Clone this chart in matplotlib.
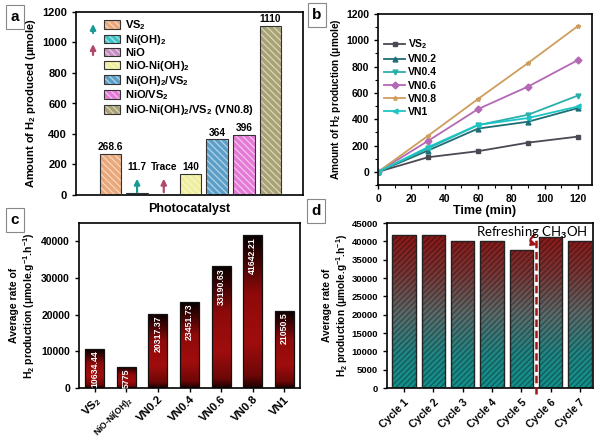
import numpy as np
import matplotlib
matplotlib.use("Agg")
import matplotlib.pyplot as plt
from matplotlib.colors import LinearSegmentedColormap
from matplotlib.patches import Patch
from matplotlib.legend_handler import HandlerTuple

plt.rcParams['font.family'] = ['Liberation Sans', 'DejaVu Sans']
plt.rcParams['font.weight'] = 'bold'
plt.rcParams['axes.labelweight'] = 'bold'
plt.rcParams['mathtext.fontset'] = 'custom'
plt.rcParams['mathtext.rm'] = 'Liberation Sans:bold'
plt.rcParams['mathtext.bf'] = 'Liberation Sans:bold'
plt.rcParams['mathtext.it'] = 'Liberation Sans:bold:italic'
plt.rcParams['axes.linewidth'] = 1.2
plt.rcParams['hatch.linewidth'] = 0.9

# ---- panel a: amount of H2 per photocatalyst
cat_a = [r'VS$_2$', r'Ni(OH)$_2$', 'NiO', r'NiO-Ni(OH)$_2$', r'Ni(OH)$_2$/VS$_2$',
         r'NiO/VS$_2$', r'NiO-Ni(OH)$_2$/VS$_2$ (VN0.8)']
h2_a = [268.6, 11.7, 3, 140, 364, 396, 1110]
lab_a = ['268.6', '11.7', 'Trace', '140', '364', '396', '1110']
col_a = ['#e9a77a', '#3fc3c9', '#c78fc0', '#eeee9c', '#5b9fc9', '#e57ad6', '#a9a274']

# ---- panel b: H2 vs time
time_b = [0, 30, 60, 90, 120]
names_b = [r'VS$_2$', 'VN0.2', 'VN0.4', 'VN0.6', 'VN0.8', 'VN1']
vs2 = [0, 111, 157, 222, 268]
vn02 = [0, 162, 329, 381, 485]
vn04 = [0, 178, 355, 434, 580]
vn06 = [0, 235, 477, 648, 850]
vn08 = [0, 274, 554, 827, 1109]
vn1 = [0, 188, 357, 409, 497]
col_b = ['#4a4a55', '#1e6e76', '#2ab0aa', '#b468b6', '#cf9e5e', '#1ec4c4']
mk_b = ['s', '^', 'v', 'D', '*', '<']

# ---- panel c: average rate
cat_c = [r'VS$_2$', r'NiO-Ni(OH)$_2$', 'VN0.2', 'VN0.4', 'VN0.6', 'VN0.8', 'VN1']
rate_c = [10634.44, 5775, 20317.37, 23451.73, 33190.63, 41642.21, 21050.5]
lab_c = ['10634.44', '5775', '20317.37', '23451.73', '33190.63', '41642.21', '21050.5']

# ---- panel d: recycling
cat_d = ['Cycle 1', 'Cycle 2', 'Cycle 3', 'Cycle 4', 'Cycle 5', 'Cycle 6', 'Cycle 7']
rate_d = [41800, 41650, 40200, 40200, 37550, 41100, 40200]

W, H = 600, 440
fig = plt.figure(figsize=(6, 4.4), dpi=100)


def rect(l, t, r, b):
    return [l / W, 1 - b / H, (r - l) / W, (b - t) / H]


def panel_label(x, y, s):
    fig.text(x / W, 1 - y / H, s, fontsize=11, fontweight='bold', ha='center', va='center',
             bbox=dict(boxstyle='square,pad=0.3', fc='white', ec='#888888', lw=0.8))


ylab2 = 'Average rate of\nH$_2$ production (μmole.g$^{-1}$.h$^{-1}$)'

# ================= a
ax = fig.add_axes(rect(76, 12, 303, 195))
xa = np.arange(len(cat_a))
ax.bar(xa, h2_a, width=0.81, color=col_a, edgecolor=(1, 1, 1, 0.55), linewidth=0,
       hatch='\\\\\\\\\\', zorder=2)
ax.bar(xa, h2_a, width=0.81, color='none', edgecolor='#333333', linewidth=0.8, zorder=3)
for x, h, s in zip(xa, h2_a, lab_a):
    yy = h + 12 if h > 100 else 150
    ax.text(x, yy, s, ha='center', va='bottom', fontsize=7.3, fontweight='bold')
ax.annotate('', xy=(1, 125), xytext=(1, 0),
            arrowprops=dict(arrowstyle='-|>', color='#1a9a94', lw=1.6, mutation_scale=8))
ax.annotate('', xy=(2, 125), xytext=(2, 0),
            arrowprops=dict(arrowstyle='-|>', color='#b04a6a', lw=1.6, mutation_scale=8))
ax.annotate('', xy=(0.075, 0.95), xytext=(0.075, 0.87), xycoords='axes fraction',
            arrowprops=dict(arrowstyle='-|>', color='#1a9a94', lw=1.6, mutation_scale=8))
ax.annotate('', xy=(0.075, 0.84), xytext=(0.075, 0.75), xycoords='axes fraction',
            arrowprops=dict(arrowstyle='-|>', color='#b04a6a', lw=1.6, mutation_scale=8))
handles = [(Patch(facecolor=c, edgecolor=(1, 1, 1, 0.55), linewidth=0, hatch='\\\\\\\\\\'),
            Patch(facecolor='none', edgecolor='#333333', linewidth=0.8)) for c in col_a]
ax.legend(handles, cat_a, handler_map={tuple: HandlerTuple(ndivide=1, pad=0)},
          loc='upper left', bbox_to_anchor=(0.095, 1.0), frameon=False, fontsize=8,
          handlelength=1.45, handleheight=0.8, labelspacing=0.08, handletextpad=0.5,
          borderaxespad=0.15)
ax.set_xlim(-1.29, 7.22)
ax.set_ylim(0, 1200)
ax.set_yticks(range(0, 1201, 200))
ax.set_xticks([])
ax.tick_params(axis='y', direction='out', length=3, width=1, labelsize=8)
ax.set_ylabel('Amount of H$_2$ produced (μmole)', fontsize=8, labelpad=3)
ax.set_xlabel('Photocatalyst', fontsize=9, labelpad=6)
panel_label(15, 17, 'a')

# ================= b
ax = fig.add_axes(rect(378, 14, 592, 185))
for ys, n, c, m in zip([vs2, vn02, vn04, vn06, vn08, vn1], names_b, col_b, mk_b):
    ax.plot(time_b, ys, color=c, marker=m, markersize=3.5, lw=1.3, label=n)
ax.set_xlim(0, 128.4)
ax.set_ylim(-100, 1200)
ax.set_xticks(range(0, 121, 20))
ax.set_yticks(range(0, 1201, 200))
ax.set_xticks(range(10, 130, 20), minor=True)
ax.set_yticks(range(-100, 1200, 200), minor=True)
ax.tick_params(which='major', direction='out', length=3, width=1, labelsize=7.5)
ax.tick_params(which='minor', direction='out', length=2, width=0.8)
ax.set_xlabel('Time (min)', fontsize=9, labelpad=1)
ax.set_ylabel('Amount of H$_2$ production (μmole)', fontsize=7.3, labelpad=2)
ax.legend(loc='upper left', bbox_to_anchor=(0.0, 0.9), frameon=False, fontsize=7.5,
          handlelength=2.0, labelspacing=0.3, handletextpad=0.3, borderaxespad=0.2)
panel_label(317, 15, 'b')

# ================= c
ax = fig.add_axes(rect(79, 223, 300, 388))
xc = np.arange(len(cat_c))
cmap_c = LinearSegmentedColormap.from_list('rodc', [(0, '#1a0000'), (0.08, '#6e0707'),
                                                   (0.3, '#a00d0d'), (0.62, '#8e0a0a'),
                                                   (0.85, '#3a0303'), (1, '#050000')])
grad = np.linspace(0, 1, 256).reshape(-1, 1)
bars = ax.bar(xc, rate_c, width=0.6, color='none', edgecolor='#111111', linewidth=0.9, zorder=3)
for b in bars:
    x0, w, h = b.get_x(), b.get_width(), b.get_height()
    im = ax.imshow(grad, extent=[x0, x0 + w, 0, h], origin='lower', cmap=cmap_c,
                   aspect='auto', zorder=2)
    im.set_clip_path(b)
for x, h, s in zip(xc, rate_c, lab_c):
    ax.text(x, h - 450, s, rotation=90, ha='center', va='top', color='white',
            fontsize=6.3, fontweight='bold', zorder=4)
ax.set_xlim(-0.5, 6.5)
ax.set_ylim(0, 45000)
ax.set_yticks(range(0, 40001, 10000))
ax.set_xticks(xc)
ax.set_xticklabels(cat_c, rotation=45, ha='right', rotation_mode='anchor')
ax.tick_params(direction='out', length=3, width=1, labelsize=7.5)
ax.tick_params(axis='x', labelsize=8.2, pad=1.5)
ax.get_xticklabels()[1].set_fontsize(6.2)
ax.set_ylabel(ylab2, fontsize=7.5, labelpad=3)
panel_label(15, 220, 'c')

# ================= d
ax = fig.add_axes(rect(387, 223, 593, 388))
xd = np.arange(len(cat_d))
cmap_d = LinearSegmentedColormap.from_list('rodd', [(0, '#13908c'), (0.2, '#1f8684'),
                                                   (0.45, '#5c6a6a'), (0.7, '#7a3434'),
                                                   (1, '#8e0d0d')])
bars = ax.bar(xd, rate_d, width=0.8, color='none', edgecolor=(0, 0, 0, 0.35), linewidth=0,
              hatch='//////', zorder=3)
ax.bar(xd, rate_d, width=0.8, color='none', edgecolor='#222222', linewidth=1.0, zorder=4)
for b in bars:
    x0, w = b.get_x(), b.get_width()
    im = ax.imshow(grad, extent=[x0, x0 + w, 0, 45000], origin='lower', cmap=cmap_d,
                   aspect='auto', zorder=2)
    im.set_clip_path(b)
ax.plot([4.5, 4.5], [-1500, 40500], ls=(0, (3, 1.5)), color='#a01515', lw=1.8,
        clip_on=False, zorder=5)
ax.annotate('', xy=(4.62, 38800), xytext=(4.55, 42300),
            arrowprops=dict(arrowstyle='-|>', color='#a01515', lw=1.6, mutation_scale=7,
                            connectionstyle='arc3,rad=1.2'), zorder=6)
ax.text(0.975, 0.99, r'Refreshing CH$_\mathrm{3}$OH', transform=ax.transAxes, ha='right',
        va='top', fontsize=9.5, fontweight='normal', family=['Lato', 'DejaVu Sans'], zorder=6)
ax.set_xlim(-0.58, 6.44)
ax.set_ylim(0, 45000)
ax.set_yticks(range(0, 45001, 5000))
ax.set_xticks(xd)
ax.set_xticklabels(cat_d, rotation=45, ha='right', rotation_mode='anchor')
ax.tick_params(direction='out', length=3, width=1, labelsize=6.8)
ax.tick_params(axis='x', labelsize=7.5)
ax.set_ylabel(ylab2, fontsize=7.3, labelpad=1)
panel_label(316, 211, 'd')

fig.savefig('out.png', dpi=100)
